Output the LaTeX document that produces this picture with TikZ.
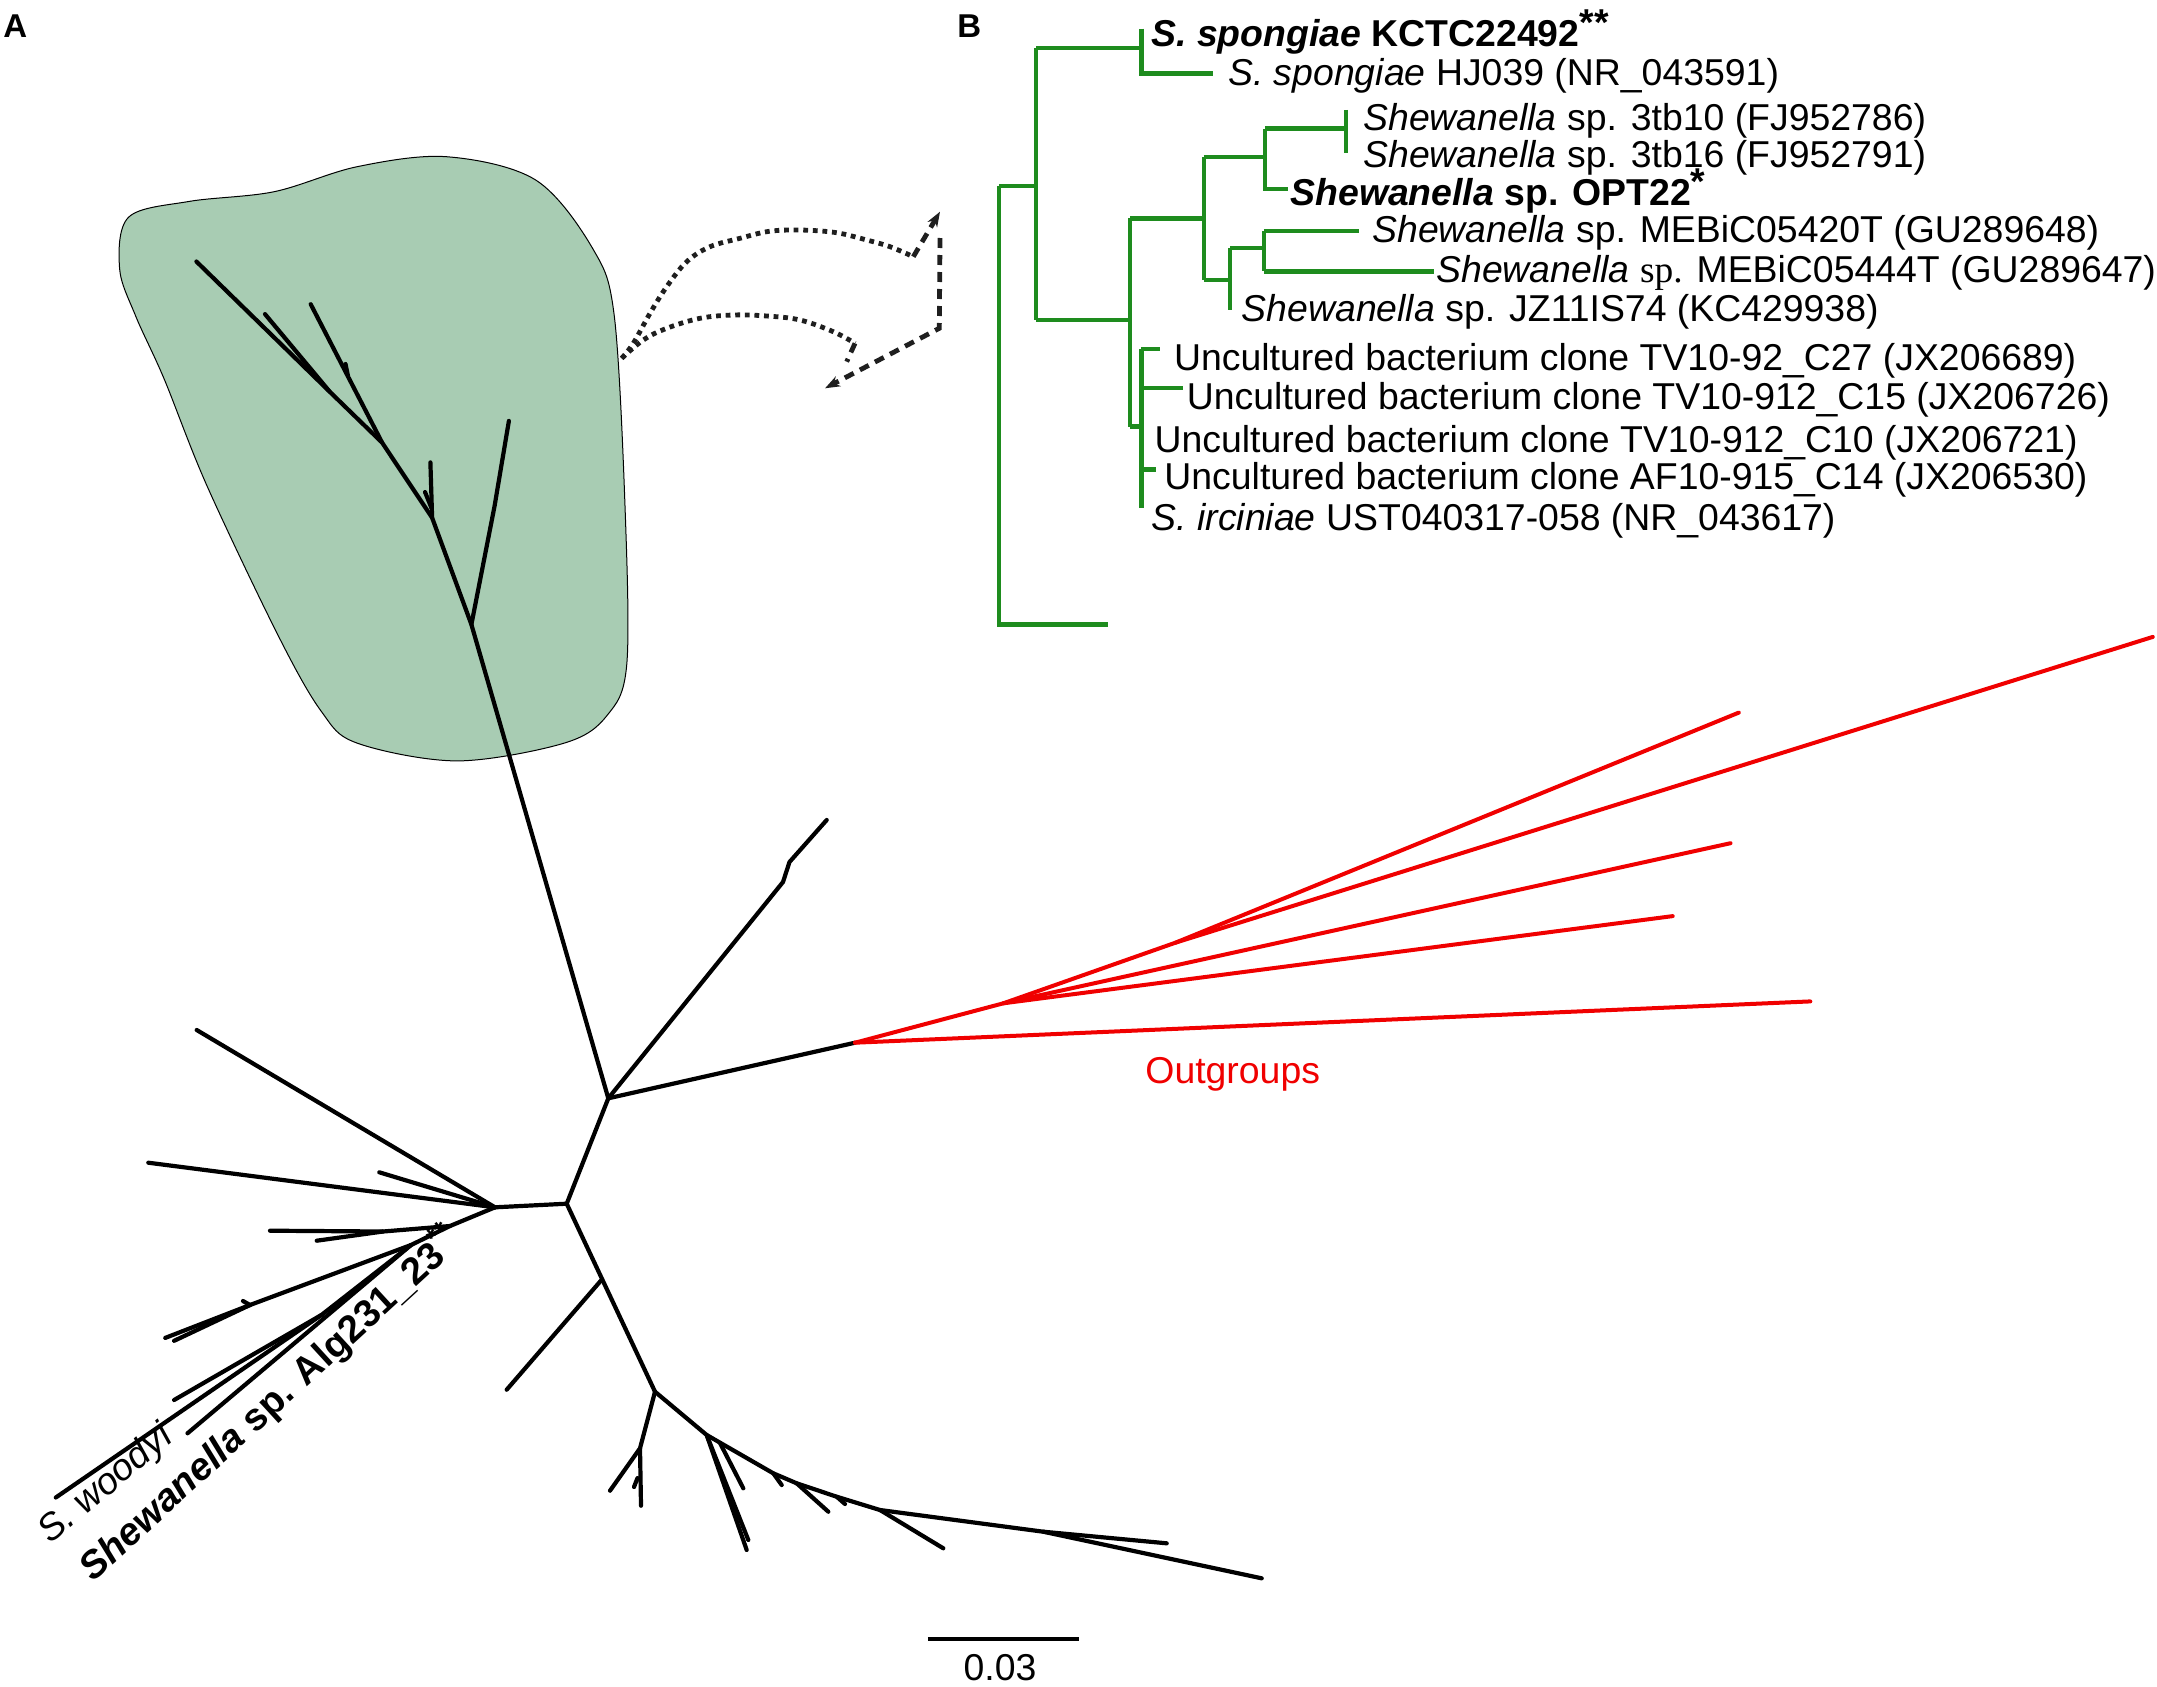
\documentclass[tikz,border=0pt]{standalone}
\usepackage{fontspec}
\setmainfont{Liberation Sans}
\newfontfamily\timesf{Liberation Serif}
\usetikzlibrary{arrows.meta}
\definecolor{treegreen}{RGB}{30,140,30}
\definecolor{blobfill}{RGB}{168,204,179}
\definecolor{outred}{RGB}{240,0,0}
\newcommand\lblfont{\fontsize{18.7}{22}\selectfont}
\begin{document}
\begin{tikzpicture}[x=0.5pt,y=-0.5pt,
  tree/.style={line width=2.1pt,line cap=round,line join=round},
  gtree/.style={draw=treegreen,line width=2.1pt},
  rtree/.style={draw=outred,line width=2pt,line cap=round},
  leaflbl/.style={font=\lblfont,inner sep=0pt,anchor=base west},
  dotline/.style={line width=2.4pt,dash pattern=on 2.4pt off 2.4pt,draw=black!88},
  dashline/.style={line width=2.4pt,dash pattern=on 5pt off 3.5pt,draw=black!88},
  tipstyle/.style={-{Stealth[length=7.5pt,width=5.5pt]}}
]
\useasboundingbox (0,0) rectangle (2157,1686);

% ---------------- blob ----------------
\draw[fill=blobfill,draw=black,line width=0.5pt] plot[smooth cycle,tension=0.55] coordinates {
(119.6,268.6) (128.6,217.2) (189.3,201.4) (274.2,191.7) (357.1,166.7) (446.4,156.7)
(535.7,180) (592.9,248.9) (614.3,316.1) (625,505.9) (626.8,664) (607.1,715.4)
(564.3,743.1) (457.1,760.9) (357.1,743.1) (321.4,711.5) (278.6,636.4) (207.1,486.1)
(164.3,379.3) (135.7,316.1)};

% ---------------- labels ----------------
\node[anchor=base west,inner sep=0pt,font=\fontsize{16.5}{19}\selectfont\bfseries] (labA) at (3,38) {A};
\node[anchor=base west,inner sep=0pt,font=\fontsize{16.5}{19}\selectfont\bfseries] (labB) at (957,38) {B};

% ---------------- tree A: coordinates ----------------
\coordinate (T5) at (471.4,624.5);
\coordinate (T4) at (432.1,517.7);
\coordinate (T3) at (382.1,442.6);
\coordinate (T2) at (330,392);
\coordinate (L1) at (196.4,261.5);
\coordinate (L2) at (265,314.1);
\coordinate (L3) at (310.7,304.2);
\coordinate (L3a) at (348,376);
\coordinate (L3b) at (345.5,364);
\coordinate (L4) at (430.4,462.4);
\coordinate (L4a) at (431.5,508);
\coordinate (L4b) at (425,492);
\coordinate (L5a) at (494.6,505.9);
\coordinate (L5) at (508.9,420.9);
\coordinate (N1) at (608.3,1098.3);
\coordinate (Bq1) at (783,882);
\coordinate (Bq2) at (789.5,862);
\coordinate (Bq) at (826.7,820);
\coordinate (R0) at (855,1042.7);
\coordinate (R1) at (1003.3,1003.3);
\coordinate (R2) at (1175.4,942.7);
\coordinate (Ro1) at (1810.3,1001.4);
\coordinate (Ro2) at (1672.7,916.1);
\coordinate (Ro3) at (1730.5,843.2);
\coordinate (Ro4) at (1738.8,712.6);
\coordinate (Ro5) at (2152.8,636.9);
\coordinate (N2) at (566.7,1203.7);
\coordinate (N3) at (495,1207.3);
\coordinate (N4) at (655,1391.7);
\coordinate (S1) at (601,1280.5);
\coordinate (S1L) at (506.7,1389.7);
\coordinate (La) at (196.7,1030);
\coordinate (Lb) at (148.3,1162.7);
\coordinate (Lc) at (379.3,1172.3);
\coordinate (N5) at (450,1226);
\coordinate (H) at (383,1231.5);
\coordinate (Hl1) at (270,1230.7);
\coordinate (Hl2) at (316.7,1240.7);
\coordinate (N6) at (411,1245);
\coordinate (U) at (250,1305);
\coordinate (Ul1) at (165.2,1337.9);
\coordinate (Ul2) at (174.1,1340.8);
\coordinate (Ul3) at (243,1301);
\coordinate (N7) at (321.4,1315);
\coordinate (Lw) at (55.8,1497.5);
\coordinate (Lm) at (174.1,1400);
\coordinate (Lalg) at (187.5,1433.3);
\coordinate (N8) at (640,1448.3);
\coordinate (N8l1) at (610,1490.7);
\coordinate (N8l2) at (641,1505.7);
\coordinate (N8a) at (637.5,1478);
\coordinate (N8b) at (634,1487);
\coordinate (N9) at (706.7,1435);
\coordinate (N9l1) at (748.3,1540);
\coordinate (N9l2) at (746.7,1550);
\coordinate (N9s) at (720,1443);
\coordinate (N9l3) at (743.3,1488.3);
\coordinate (Na) at (773.3,1473.3);
\coordinate (Nat) at (781.7,1485);
\coordinate (Nb) at (796.7,1483.3);
\coordinate (Nbl) at (828.3,1511.7);
\coordinate (Nc) at (836.7,1496.7);
\coordinate (Nct) at (845,1504);
\coordinate (N10) at (880,1510);
\coordinate (N10l) at (943.3,1548.3);
\coordinate (N11) at (1043.3,1531.7);
\coordinate (N11l1) at (1166.7,1543.3);
\coordinate (N11l2) at (1261.7,1578.3);

% ---------------- tree A: branches ----------------
\draw[tree] (N1) -- (T5) -- (T4) -- (T3) -- (T2) -- (L1);
\draw[tree] (T2) -- (L2);
\draw[tree] (T3) -- (L3);
\draw[tree] (L3a) -- (L3b);
\draw[tree] (T4) -- (L4);
\draw[tree] (L4a) -- (L4b);
\draw[tree] (T5) -- (L5a) -- (L5);
\draw[tree] (N1) -- (Bq1) -- (Bq2) -- (Bq);
\draw[tree] (N1) -- (R0);
\draw[rtree] (R0) -- (Ro1);
\draw[rtree] (R0) -- (R1) -- (Ro2);
\draw[rtree] (R1) -- (Ro3);
\draw[rtree] (R1) -- (R2) -- (Ro4);
\draw[rtree] (R2) -- (Ro5);
\draw[tree] (N1) -- (N2) -- (N3);
\draw[tree] (N2) -- (N4);
\draw[tree] (S1) -- (S1L);
\draw[tree] (N3) -- (La);
\draw[tree] (N3) -- (Lb);
\draw[tree] (N3) -- (Lc);
\draw[tree] (N3) -- (N5) -- (H) -- (Hl1);
\draw[tree] (H) -- (Hl2);
\draw[tree] (N5) -- (N6) -- (U) -- (Ul1);
\draw[tree] (U) -- (Ul2);
\draw[tree] (U) -- (Ul3);
\draw[tree] (N6) -- (N7) -- (Lw);
\draw[tree] (N7) -- (Lm);
\draw[tree] (N6) -- (Lalg);
\draw[tree] (N4) -- (N8) -- (N8l1);
\draw[tree] (N8) -- (N8l2);
\draw[tree] (N8a) -- (N8b);
\draw[tree] (N4) -- (N9) -- (N9l1);
\draw[tree] (N9) -- (N9l2);
\draw[tree] (N9s) -- (N9l3);
\draw[tree] (N9) -- (Na) -- (Nb) -- (Nc) -- (N10) -- (N11) -- (N11l2);
\draw[tree] (Na) -- (Nat);
\draw[tree] (Nb) -- (Nbl);
\draw[tree] (Nc) -- (Nct);
\draw[tree] (N10) -- (N10l);
\draw[tree] (N11) -- (N11l1);

% ---------------- labels in A ----------------
\node[leaflbl,rotate=40] (woodyi) at (50,1545) {\textit{S. woodyi}};
\node[leaflbl,rotate=42.5,font=\fontsize{19.2}{22}\selectfont] (alg) at (93,1583) {\textbf{\textit{Shewanella} sp. Alg231\_23\textsuperscript{**}}};
\node[leaflbl,text=outred] (outg) at (1145,1083.5) {Outgroups};

% ---------------- scale bar ----------------
\coordinate (sb1) at (927.9,1639.3);
\coordinate (sb2) at (1078.5,1639.3);
\draw[line width=1.9pt] (sb1) -- (sb2);
\node[font=\lblfont,inner sep=0pt,anchor=base] (sbl) at (1000,1680) {0.03};

% ---------------- dotted arrows ----------------
\coordinate (bx) at (621.7,358.3);
\coordinate (ua) at (913.3,256.7);
\coordinate (ut) at (940,211.7);
\coordinate (la) at (855,343.3);
\coordinate (lb) at (846.7,361.7);
\coordinate (va) at (940,238);
\coordinate (vb) at (939.3,328.3);
\coordinate (vt) at (825,388.3);
\draw[dotline] plot[smooth,tension=0.6] coordinates {(bx) (633.3,343.3) (650,313.3) (666.7,286.7) (686.7,261.7) (710,246.7) (740,238.3) (766.7,231.7) (790,230) (816.7,230.7) (840,233.3) (866.7,240) (890,246.7) (ua)};
\draw[dotline] plot[smooth,tension=0.6] coordinates {(bx) (643.3,340) (666.7,328.3) (700,318.3) (733.3,315) (766.7,316) (800,320) (833.3,331.7) (la)};
\draw[dashline,tipstyle] (ua) -- (ut);
\draw[dashline] (la) -- (lb);
\draw[dashline,tipstyle] (va) -- (vb) -- (vt);

% ---------------- tree B ----------------
\coordinate (Ba) at (998.8,185.7);
\coordinate (Bb) at (998.8,624.5);
\coordinate (Bbl) at (1107.6,624.5);
\draw[gtree] (Ba) -- (Bb) -- (Bbl);
\coordinate (Bc1) at (1036.3,48.2);
\coordinate (Bc2) at (1036.3,319.6);
\draw[gtree] (Ba) -- (Ba -| Bc1);
\draw[gtree] (Bc1) -- (Bc2);
\coordinate (Bd1) at (1141.4,28.6);
\coordinate (Bd2) at (1141.4,73.5);
\coordinate (BdL) at (1212.7,73.5);
\draw[gtree] (Bc1) -- (Bc1 -| Bd1);
\draw[gtree] (Bd1) -- (Bd2) -- (BdL);
\coordinate (Be1) at (1130.2,218.4);
\coordinate (Be2) at (1130.2,426.5);
\draw[gtree] (Bc2) -- (Bc2 -| Be1);
\draw[gtree] (Be1) -- (Be2);
\coordinate (Bf1) at (1203.7,157.1);
\coordinate (Bf2) at (1203.7,279.6);
\draw[gtree] (Be1) -- (Be1 -| Bf1);
\draw[gtree] (Bf1) -- (Bf2);
\coordinate (Bg1) at (1265.3,128.6);
\coordinate (Bg2) at (1265.3,188.6);
\coordinate (BgL) at (1287.8,188.6);
\draw[gtree] (Bf1) -- (Bf1 -| Bg1);
\draw[gtree] (Bg1) -- (Bg2) -- (BgL);
\coordinate (Bh1) at (1345.6,110);
\coordinate (Bh2) at (1345.6,153);
\draw[gtree] (Bg1) -- (Bg1 -| Bh1);
\draw[gtree] (Bh1) -- (Bh2);
\coordinate (Bi1) at (1230,248.2);
\coordinate (Bi2) at (1230,310.2);
\draw[gtree] (Bf2) -- (Bf2 -| Bi1);
\draw[gtree] (Bi1) -- (Bi2);
\coordinate (Bj1) at (1263.8,230.6);
\coordinate (Bj2) at (1263.8,271.4);
\coordinate (BjL1) at (1359,230.6);
\coordinate (BjL2) at (1434.2,271.4);
\draw[gtree] (Bi1) -- (Bi1 -| Bj1);
\draw[gtree] (Bj1) -- (Bj2);
\draw[gtree] (Bj1) -- (BjL1);
\draw[gtree] (Bj2) -- (BjL2);
\coordinate (Bk1) at (1141.4,349);
\coordinate (Bk2) at (1141.4,508);
\coordinate (Bt1) at (1160.2,349);
\coordinate (Bk3) at (1141.4,387.8);
\coordinate (Bt2) at (1182.7,387.8);
\coordinate (Bk4) at (1141.4,469.4);
\coordinate (Bt3) at (1156.4,469.4);
\draw[gtree] (Be2) -- (Be2 -| Bk1);
\draw[gtree] (Bk1) -- (Bk2);
\draw[gtree] (Bk1) -- (Bt1);
\draw[gtree] (Bk3) -- (Bt2);
\draw[gtree] (Bk4) -- (Bt3);

% ---------------- labels in B ----------------
\node[leaflbl] (t1) at (1151,46.4) {\textbf{\textit{S. spongiae} KCTC22492\raisebox{0.3em}{**}}};
\node[leaflbl] (t2) at (1227.7,85.4) {\textit{S. spongiae} HJ039 (NR\_043591)};
\node[leaflbl] (t3) at (1362.9,130.4) {\textit{Shewanella} sp. 3tb10 (FJ952786)};
\node[leaflbl] (t4) at (1362.9,167) {\textit{Shewanella} sp. 3tb16 (FJ952791)};
\node[leaflbl] (t5) at (1290,205.4) {\textbf{\textit{Shewanella} sp. OPT22\raisebox{0.3em}{*}}};
\node[leaflbl] (t6) at (1371.9,242.4) {\textit{Shewanella} sp. MEBiC05420T (GU289648)};
\node[leaflbl] (t7) at (1436,282.4) {\textit{Shewanella} {\timesf sp.} MEBiC05444T (GU289647)};
\node[leaflbl] (t8) at (1241.3,321.4) {\textit{Shewanella} sp. JZ11IS74 (KC429938)};
\node[leaflbl] (t9) at (1173.7,370.4) {Uncultured bacterium clone TV10-92\_C27 (JX206689)};
\node[leaflbl] (t10) at (1186.5,409.4) {Uncultured bacterium clone TV10-912\_C15 (JX206726)};
\node[leaflbl] (t11) at (1154.2,452.4) {Uncultured bacterium clone TV10-912\_C10 (JX206721)};
\node[leaflbl] (t12) at (1164,489.4) {Uncultured bacterium clone AF10-915\_C14 (JX206530)};
\node[leaflbl] (t13) at (1151.2,530.4) {\textit{S. irciniae} UST040317-058 (NR\_043617)};
\end{tikzpicture}
\end{document}
